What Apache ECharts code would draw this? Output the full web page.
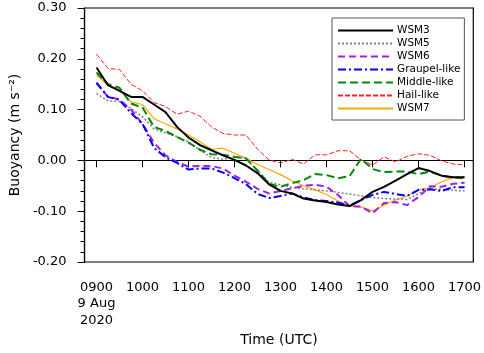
<!DOCTYPE html>
<html>
<head>
<meta charset="utf-8">
<script src="https://cdn.jsdelivr.net/npm/echarts@6/dist/echarts.min.js"></script>
<style>html,body{margin:0;padding:0;background:#fff}#c{width:484px;height:353px}</style>
</head>
<body>
<div id="c"></div>
<script>
// Time in hours (UTC), 15-minute steps from 0900 to 1700
const hours = [9, 9.25, 9.5, 9.75, 10, 10.25, 10.5, 10.75, 11, 11.25, 11.5, 11.75, 12, 12.25, 12.5, 12.75,
  13, 13.25, 13.5, 13.75, 14, 14.25, 14.5, 14.75, 15, 15.25, 15.5, 15.75, 16, 16.25, 16.5, 16.75, 17];
const xTickValues = [9, 10, 11, 12, 13, 14, 15, 16, 17];
const xTickLabels = ['0900\n9 Aug\n2020', '1000', '1100', '1200', '1300', '1400', '1500', '1600', '1700'];

const wsm3 = [0.183, 0.148, 0.137, 0.125, 0.125, 0.110, 0.095, 0.066, 0.045, 0.030, 0.020, 0.010, 0.001, -0.010, -0.025, -0.047,
  -0.060, -0.065, -0.075, -0.079, -0.082, -0.087, -0.090, -0.078, -0.062, -0.052, -0.040, -0.027, -0.015, -0.021, -0.030, -0.033, -0.033];
const wsm5 = [0.132, 0.117, 0.116, 0.102, 0.086, 0.062, 0.054, 0.047, 0.036, 0.020, 0.006, 0.002, 0.007, 0.004, -0.020, -0.043,
  -0.048, -0.053, -0.056, -0.058, -0.060, -0.063, -0.066, -0.070, -0.073, -0.075, -0.076, -0.077, -0.065, -0.057, -0.057, -0.059, -0.060];
const wsm6 = [0.152, 0.125, 0.120, 0.100, 0.072, 0.035, 0.010, -0.003, -0.012, -0.011, -0.011, -0.016, -0.030, -0.042, -0.056, -0.065,
  -0.060, -0.055, -0.050, -0.048, -0.052, -0.068, -0.090, -0.091, -0.104, -0.084, -0.082, -0.088, -0.072, -0.051, -0.052, -0.046, -0.044];
const graupel = [0.153, 0.125, 0.119, 0.093, 0.072, 0.025, 0.006, -0.005, -0.018, -0.016, -0.016, -0.024, -0.035, -0.047, -0.066, -0.074,
  -0.070, -0.065, -0.073, -0.078, -0.080, -0.083, -0.089, -0.078, -0.068, -0.062, -0.066, -0.070, -0.058, -0.057, -0.060, -0.053, -0.053];
const middle = [0.173, 0.150, 0.143, 0.112, 0.104, 0.066, 0.058, 0.046, 0.035, 0.021, 0.012, 0.011, 0.007, 0.004, -0.020, -0.046,
  -0.052, -0.045, -0.039, -0.027, -0.029, -0.035, -0.031, 0.003, -0.017, -0.023, -0.022, -0.022, -0.027, -0.022, -0.030, -0.034, -0.035];
const hail = [0.209, 0.181, 0.179, 0.150, 0.137, 0.114, 0.106, 0.091, 0.097, 0.087, 0.066, 0.053, 0.050, 0.050, 0.022, 0.001,
  -0.005, 0.002, -0.007, 0.011, 0.011, 0.019, 0.019, 0.001, -0.009, 0.007, -0.003, 0.008, 0.013, 0.010, -0.001, -0.007, -0.009];
const wsm7 = [0.168, 0.148, 0.139, 0.115, 0.110, 0.082, 0.072, 0.062, 0.050, 0.036, 0.022, 0.024, 0.014, 0.004, -0.008, -0.018,
  -0.028, -0.040, -0.050, -0.058, -0.067, -0.080, -0.090, -0.092, -0.099, -0.088, -0.078, -0.070, -0.058, -0.054, -0.042, -0.034, -0.032];

const FONT = 'DejaVu Sans';
const pair = arr => arr.map((v, i) => [hours[i], v]);
function line(name, arr, color, width, type, z) {
  return {
    name: name, type: 'line', data: pair(arr), symbol: 'none', z: z,
    lineStyle: { color: color, width: width, type: type },
    itemStyle: { color: color },
    emphasis: { disabled: true }, animation: false
  };
}

const chart = echarts.init(document.getElementById('c'), null, { renderer: 'canvas' });
chart.setOption({
  animation: false,
  grid: { left: 80, right: 10, top: 8, bottom: 91, show: true, borderColor: '#000', borderWidth: 1.2, backgroundColor: 'transparent' },
  legend: {
    orient: 'vertical', left: 332, top: 18,
    padding: [6, 4, 5, 5], itemGap: 0, itemWidth: 55, itemHeight: 13,
    backgroundColor: '#fff', borderColor: '#555', borderWidth: 1,
    itemStyle: { color: 'transparent', borderWidth: 0, opacity: 0 },
    textStyle: { fontFamily: FONT, fontSize: 10.5, lineHeight: 13, color: '#000', padding: [0, 0, 0, -1] },
    data: ['WSM3', 'WSM5', 'WSM6', 'Graupel-like', 'Middle-like', 'Hail-like', 'WSM7']
  },
  xAxis: {
    type: 'value', min: 8.74, max: 17.19,
    name: 'Time (UTC)', nameLocation: 'middle', nameGap: 70,
    nameTextStyle: { fontFamily: FONT, fontSize: 14, color: '#000' },
    axisLine: { lineStyle: { color: '#000', width: 1.2 } },
    axisTick: { show: true, inside: false, length: 7, customValues: xTickValues, lineStyle: { color: '#000', width: 1 } },
    axisLabel: {
      customValues: xTickValues, margin: 17, fontFamily: FONT, fontSize: 13, color: '#000', lineHeight: 16.5,
      formatter: v => { const i = xTickValues.indexOf(Math.round(v)); return i >= 0 ? xTickLabels[i] : ''; }
    },
    splitLine: { show: false }
  },
  yAxis: {
    type: 'value', min: -0.2, max: 0.3, interval: 0.1,
    name: 'Buoyancy (m s\u207B\u00B2)', nameLocation: 'middle', nameGap: 60,
    nameTextStyle: { fontFamily: FONT, fontSize: 14, color: '#000' },
    axisLine: { show: true, lineStyle: { color: '#000', width: 1.2 } },
    axisTick: { show: true, inside: false, length: 7, lineStyle: { color: '#000', width: 1 } },
    minorTick: { show: true, splitNumber: 5, length: 4, lineStyle: { color: '#000', width: 1 } },
    axisLabel: { margin: 18, fontFamily: FONT, fontSize: 13, color: '#000', formatter: v => v.toFixed(2) },
    splitLine: { show: false }
  },
  series: [
    line('WSM3', wsm3, '#000000', 2, 'solid', 9),
    line('WSM5', wsm5, '#808080', 1.5, [2, 2], 3),
    line('WSM6', wsm6, '#a020f0', 2, [7, 4], 4),
    line('Graupel-like', graupel, '#0000ff', 2, [8, 3, 2, 3], 5),
    line('Middle-like', middle, '#008a00', 2, [8, 4], 6),
    line('Hail-like', hail, '#ff2020', 1, [5, 2], 2),
    line('WSM7', wsm7, '#ffa500', 1.2, 'solid', 1)
  ]
});
</script>
</body>
</html>
